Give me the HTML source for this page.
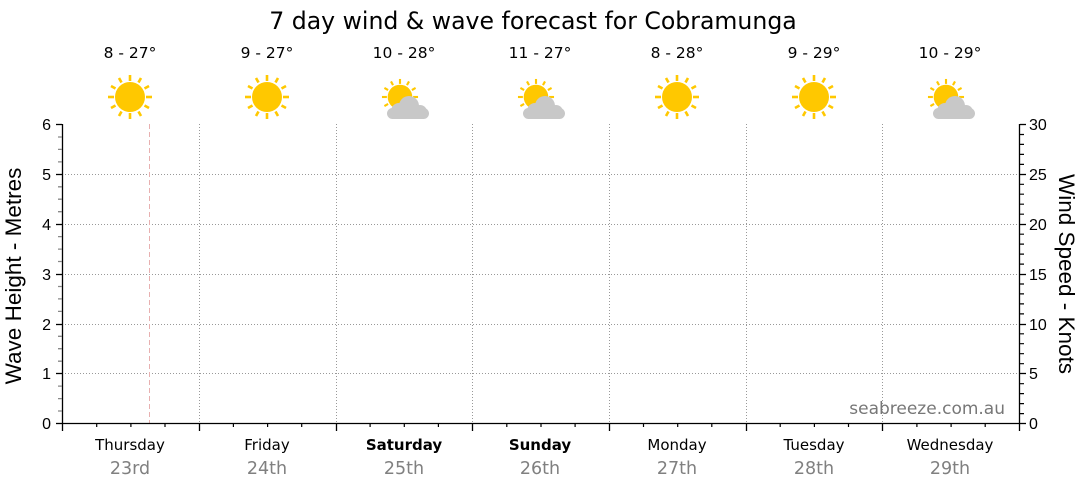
<!DOCTYPE html>
<html><head><meta charset="utf-8"><style>body{margin:0;background:#fff}svg{display:block}text{font-family:"Liberation Sans",sans-serif}.dv{font-family:"DejaVu Sans",sans-serif}</style></head><body>
<svg width="1080" height="490" viewBox="0 0 1080 490" xmlns="http://www.w3.org/2000/svg">
<defs>
<g id="sun"><g stroke="#ffc800" stroke-width="2.6"><line x1="0" y1="-22" x2="0" y2="-16"/><line x1="0" y1="16" x2="0" y2="22"/><line x1="-22" y1="0" x2="-16" y2="0"/><line x1="16" y1="0" x2="22" y2="0"/><line x1="-11" y1="-19" x2="-8.5" y2="-14.5"/><line x1="11" y1="-19" x2="8.5" y2="-14.5"/><line x1="-11" y1="19" x2="-8.5" y2="14.5"/><line x1="11" y1="19" x2="8.5" y2="14.5"/><line x1="-19" y1="-11" x2="-14.5" y2="-8.5"/><line x1="19" y1="-11" x2="14.5" y2="-8.5"/><line x1="-19" y1="11" x2="-14.5" y2="8.5"/><line x1="19" y1="11" x2="14.5" y2="8.5"/></g><circle r="15" fill="#ffc800"/></g>
<g id="cloud"><g fill="#c8c8c8"><circle cx="22" cy="10" r="10"/><circle cx="12" cy="15" r="8"/><circle cx="33" cy="16" r="7"/><rect x="0" y="12" width="42" height="11" rx="5.5"/></g></g>
</defs>
<text class="dv" x="533" y="29" font-size="23.6" text-anchor="middle" fill="#000">7 day wind &amp; wave forecast for Cobramunga</text>
<g font-size="15.5" text-anchor="middle" fill="#000">
<text class="dv" x="130" y="58">8 - 27°</text><text class="dv" x="267" y="58">9 - 27°</text><text class="dv" x="404" y="58">10 - 28°</text><text class="dv" x="540" y="58">11 - 27°</text><text class="dv" x="677" y="58">8 - 28°</text><text class="dv" x="814" y="58">9 - 29°</text><text class="dv" x="950" y="58">10 - 29°</text>
</g>
<use href="#sun" x="130" y="97"/><use href="#sun" x="267" y="97"/>
<g transform="translate(400 97) scale(0.82)"><use href="#sun"/></g><use href="#cloud" x="387" y="96"/>
<g transform="translate(536 97) scale(0.82)"><use href="#sun"/></g><use href="#cloud" x="523" y="96"/>
<use href="#sun" x="677" y="97"/><use href="#sun" x="814" y="97"/>
<g transform="translate(946 97) scale(0.82)"><use href="#sun"/></g><use href="#cloud" x="933" y="96"/>
<g stroke="#999" stroke-width="1" stroke-dasharray="1,2">
<line x1="62" y1="174.5" x2="1019" y2="174.5"/><line x1="62" y1="224.5" x2="1019" y2="224.5"/><line x1="62" y1="274.5" x2="1019" y2="274.5"/><line x1="62" y1="324.5" x2="1019" y2="324.5"/><line x1="62" y1="373.5" x2="1019" y2="373.5"/>
<line x1="199.5" y1="124" x2="199.5" y2="423"/><line x1="336.5" y1="124" x2="336.5" y2="423"/><line x1="472.5" y1="124" x2="472.5" y2="423"/><line x1="609.5" y1="124" x2="609.5" y2="423"/><line x1="746.5" y1="124" x2="746.5" y2="423"/><line x1="882.5" y1="124" x2="882.5" y2="423"/>
</g>
<line x1="149.5" y1="124" x2="149.5" y2="423" stroke="#e8b0b0" stroke-dasharray="5,3"/>
<g stroke="#000" stroke-width="1.3">
<line x1="62.5" y1="124" x2="62.5" y2="423.5"/><line x1="1019.5" y1="124" x2="1019.5" y2="423.5"/><line x1="62" y1="423.5" x2="1020" y2="423.5"/>
<line x1="56" y1="124.5" x2="62" y2="124.5"/><line x1="56" y1="174.5" x2="62" y2="174.5"/><line x1="56" y1="224.5" x2="62" y2="224.5"/><line x1="56" y1="274.5" x2="62" y2="274.5"/><line x1="56" y1="324.5" x2="62" y2="324.5"/><line x1="56" y1="373.5" x2="62" y2="373.5"/><line x1="56" y1="423.5" x2="62" y2="423.5"/>
<line x1="1020" y1="124.5" x2="1026" y2="124.5"/><line x1="1020" y1="174.5" x2="1026" y2="174.5"/><line x1="1020" y1="224.5" x2="1026" y2="224.5"/><line x1="1020" y1="274.5" x2="1026" y2="274.5"/><line x1="1020" y1="324.5" x2="1026" y2="324.5"/><line x1="1020" y1="373.5" x2="1026" y2="373.5"/><line x1="1020" y1="423.5" x2="1026" y2="423.5"/>
<line x1="62.5" y1="423" x2="62.5" y2="431"/><line x1="199.5" y1="423" x2="199.5" y2="431"/><line x1="336.5" y1="423" x2="336.5" y2="431"/><line x1="472.5" y1="423" x2="472.5" y2="431"/><line x1="609.5" y1="423" x2="609.5" y2="431"/><line x1="746.5" y1="423" x2="746.5" y2="431"/><line x1="882.5" y1="423" x2="882.5" y2="431"/><line x1="1019.5" y1="423" x2="1019.5" y2="431"/>
</g>
<path stroke="#888" stroke-width="1.3" d="M58 137h4M58 149.4h4M58 161.9h4M58 186.8h4M58 199.2h4M58 211.7h4M58 236.6h4M58 249.1h4M58 261.5h4M58 286.5h4M58 298.9h4M58 311.4h4M58 336.3h4M58 348.7h4M58 361.2h4M58 386.1h4M58 398.6h4M58 411h4"/>
<path stroke="#000" stroke-width="1.2" d="M1020 134.5h4M1020 144.4h4M1020 154.4h4M1020 164.4h4M1020 184.3h4M1020 194.2h4M1020 204.2h4M1020 214.2h4M1020 234.2h4M1020 244.1h4M1020 254.1h4M1020 264.1h4M1020 284h4M1020 293.9h4M1020 303.9h4M1020 313.9h4M1020 333.8h4M1020 343.7h4M1020 353.7h4M1020 363.7h4M1020 383.7h4M1020 393.6h4M1020 403.6h4M1020 413.6h4"/>
<path stroke="#000" stroke-width="1.2" d="M96.7 423v4M130.9 423v4M165 423v4M233.4 423v4M267.6 423v4M301.7 423v4M370.1 423v4M404.3 423v4M438.4 423v4M506.8 423v4M541 423v4M575.1 423v4M643.5 423v4M677.7 423v4M711.8 423v4M780.2 423v4M814.4 423v4M848.5 423v4M916.9 423v4M951.1 423v4M985.2 423v4"/>
<g font-size="16" fill="#000" text-anchor="end">
<text x="51" y="130">6</text><text x="51" y="180">5</text><text x="51" y="230">4</text><text x="51" y="280">3</text><text x="51" y="330">2</text><text x="51" y="379">1</text><text x="51" y="429">0</text>
</g>
<g font-size="16" fill="#000">
<text x="1029" y="130">30</text><text x="1029" y="180">25</text><text x="1029" y="230">20</text><text x="1029" y="280">15</text><text x="1029" y="330">10</text><text x="1029" y="379">5</text><text x="1029" y="429">0</text>
</g>
<text transform="translate(21 276) rotate(-90)" font-size="22.5" text-anchor="middle">Wave Height - Metres</text>
<text transform="translate(1059 274) rotate(90)" font-size="22.5" text-anchor="middle">Wind Speed - Knots</text>
<text class="dv" x="1005" y="414" font-size="17" fill="#777" text-anchor="end">seabreeze.com.au</text>
<g font-size="15" text-anchor="middle" fill="#000">
<text class="dv" x="130" y="450">Thursday</text><text class="dv" x="267" y="450">Friday</text><text class="dv" x="404" y="450" font-weight="bold">Saturday</text><text class="dv" x="540" y="450" font-weight="bold">Sunday</text><text class="dv" x="677" y="450">Monday</text><text class="dv" x="814" y="450">Tuesday</text><text class="dv" x="950" y="450">Wednesday</text>
</g>
<g font-size="17.5" text-anchor="middle" fill="#808080">
<text class="dv" x="130" y="474">23rd</text><text class="dv" x="267" y="474">24th</text><text class="dv" x="404" y="474">25th</text><text class="dv" x="540" y="474">26th</text><text class="dv" x="677" y="474">27th</text><text class="dv" x="814" y="474">28th</text><text class="dv" x="950" y="474">29th</text>
</g>
</svg>
</body></html>
